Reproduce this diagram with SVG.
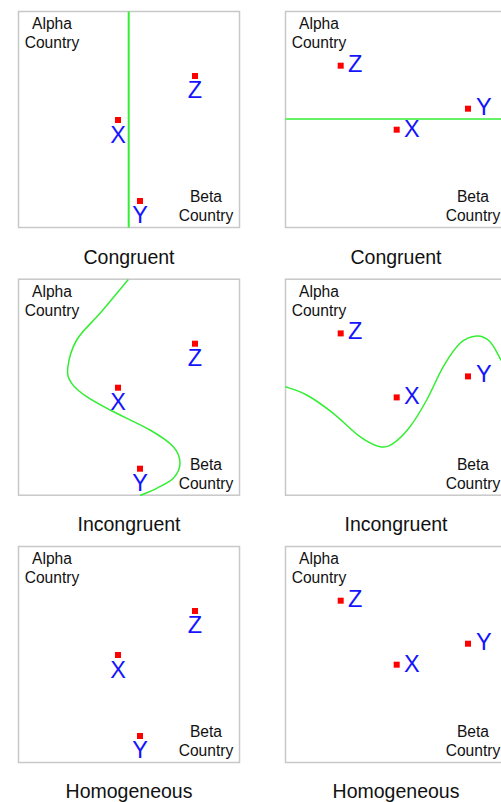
<svg xmlns="http://www.w3.org/2000/svg" width="501" height="802" viewBox="0 0 501 802">
<style>
.box{fill:#fff;stroke:#c8c8c8;stroke-width:1.5}
.lbl{font-family:"Liberation Sans",Arial,sans-serif;font-size:15.6px;fill:#111;text-anchor:middle}
.cap{font-family:"Liberation Sans",Arial,sans-serif;font-size:19.5px;fill:#111;text-anchor:middle}
.pt{fill:#ff0000}
.let{font-family:"Liberation Sans",Arial,sans-serif;font-size:23.5px;fill:#1414ff}
.c{text-anchor:middle}
.border{fill:none;stroke:#33ee33;stroke-width:1.5}
</style>
<rect width="501" height="802" fill="#fff"/>
<defs>
<g id="pA">
<rect class="box" x="18.5" y="11.5" width="221" height="216"/>
<text class="lbl" x="52" y="29">Alpha</text>
<text class="lbl" x="52" y="48">Country</text>
<text class="lbl" x="206" y="202">Beta</text>
<text class="lbl" x="206" y="221">Country</text>
</g>
<g id="pB">
<rect class="box" x="285.5" y="11.5" width="221" height="216"/>
<text class="lbl" x="319" y="29">Alpha</text>
<text class="lbl" x="319" y="48">Country</text>
<text class="lbl" x="473" y="202">Beta</text>
<text class="lbl" x="473" y="221">Country</text>
</g>
<g id="ptsA">
<rect class="pt" x="192" y="73" width="6" height="6"/>
<text class="let c" x="195" y="98">Z</text>
<rect class="pt" x="115" y="117" width="6" height="6"/>
<text class="let c" x="118" y="142.5">X</text>
<rect class="pt" x="137" y="198" width="6" height="6"/>
<text class="let c" x="140" y="223">Y</text>
</g>
<g id="ptsB">
<rect class="pt" x="337.7" y="62.7" width="6" height="6"/>
<text class="let" x="348" y="71.7">Z</text>
<rect class="pt" x="393.7" y="126.7" width="6" height="6"/>
<text class="let" x="404" y="136.7">X</text>
<rect class="pt" x="465" y="105.7" width="6" height="6"/>
<text class="let" x="476" y="114.5">Y</text>
</g>
</defs>

<g id="panel-congruent-left">
<use href="#pA"/>
<use href="#ptsA"/>
<text class="cap" x="129" y="263.5">Congruent</text>
</g>
<g id="panel-congruent-right">
<use href="#pB"/>
<use href="#ptsB"/>
<text class="cap" x="396" y="263.5">Congruent</text>
</g>
<g id="panel-incongruent-left" transform="translate(0,267.7)">
<use href="#pA"/>
<use href="#ptsA"/>
<text class="cap" x="129" y="263">Incongruent</text>
</g>
<g id="panel-incongruent-right" transform="translate(0,267.7)">
<use href="#pB"/>
<use href="#ptsB"/>
<text class="cap" x="396" y="263">Incongruent</text>
</g>
<g id="panel-homogeneous-left" transform="translate(0,535)">
<use href="#pA"/>
<use href="#ptsA"/>
<text class="cap" x="129" y="263">Homogeneous</text>
</g>
<g id="panel-homogeneous-right" transform="translate(0,535)">
<use href="#pB"/>
<use href="#ptsB"/>
<text class="cap" x="396" y="263">Homogeneous</text>
</g>

<g id="borders">
<line class="border" style="stroke-width:2" x1="128.7" y1="11.5" x2="128.7" y2="227.5"/>
<line class="border" x1="285.5" y1="119" x2="506.5" y2="119"/>
<path class="border" d="M128.3,279.5 C123.6,285.1 108.6,303.2 100,313.3 C91.4,323.4 82.1,330.8 76.7,340 C71.3,349.2 68.5,361.1 67.7,368.3 C66.9,375.5 68.5,378.6 71.7,383.3 C74.9,388 80.3,392.25 86.7,396.7 C93.1,401.15 99.45,404.45 110,410 C120.55,415.55 139.45,423.9 150,430 C160.55,436.1 168.3,441.15 173.3,446.7 C178.3,452.25 180,458 180,463.3 C180,468.6 177.2,474.1 173.3,478.3 C169.4,482.5 162.25,485.4 156.7,488.3 C151.15,491.2 142.8,494.3 140,495.5"/>
<path class="border" d="M285.5,386.7 C289,388.1 298.7,390.6 306.7,395 C314.7,399.4 324.4,406.4 333.3,413.3 C342.2,420.3 352.2,431.1 360,436.7 C367.8,442.3 374.45,445.6 380,446.7 C385.55,447.8 388.3,446.6 393.3,443.3 C398.3,440 404.4,433.9 410,426.7 C415.6,419.5 421.15,410 426.7,400 C432.25,390 437.75,376.15 443.3,366.7 C448.85,357.25 454.4,348.4 460,343.3 C465.6,338.2 471.7,336.3 476.7,336 C481.7,335.7 485.95,337.7 490,341.7 C494.05,345.7 498.2,354.95 501,360 C503.8,365.05 506,370 507,372"/>
</g>
</svg>
